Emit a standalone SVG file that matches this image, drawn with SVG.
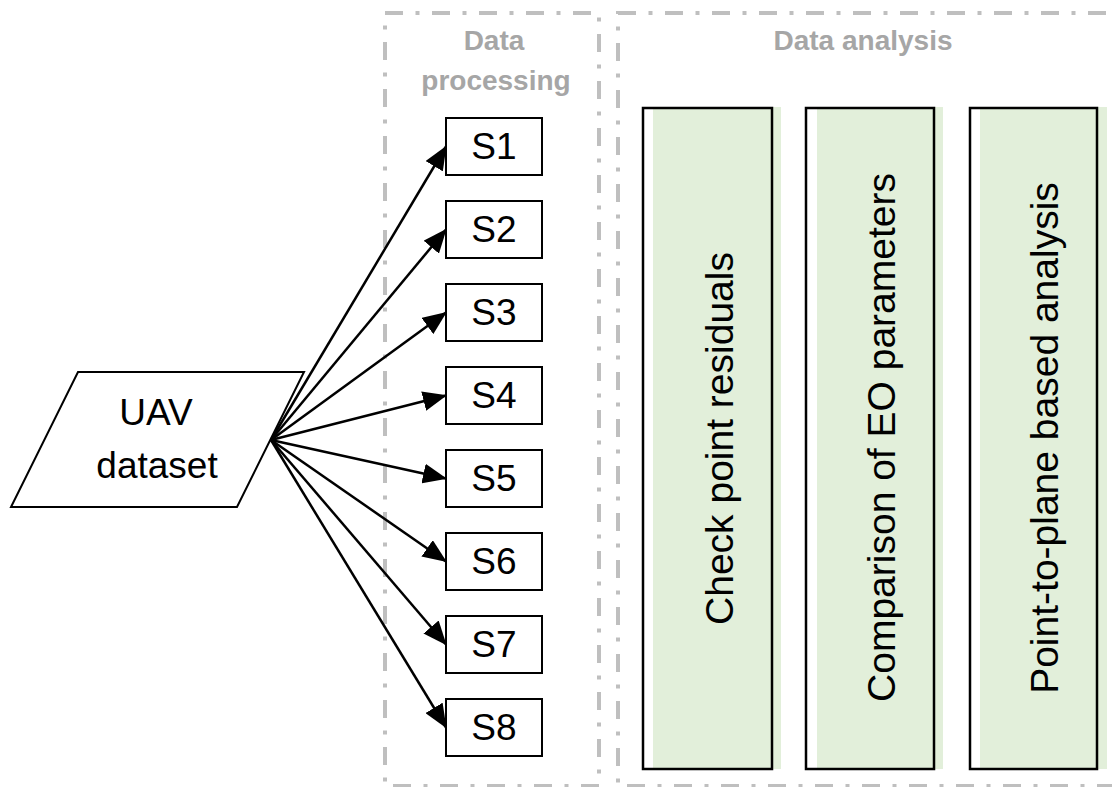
<svg xmlns="http://www.w3.org/2000/svg" width="1112" height="787" viewBox="0 0 1112 787">
  <style>
    .frame { fill: none; stroke: #bfbfbf; stroke-width: 4; stroke-dasharray: 18 12.5 4 12.5; }
    .title { font-family: "Liberation Sans", Arial, sans-serif; font-weight: bold; font-size: 28px; fill: #a6a6a6; text-anchor: middle; }
    .lbl { font-family: "Liberation Sans", Arial, sans-serif; font-size: 37px; fill: #000; text-anchor: middle; }
    .vlbl { font-family: "Liberation Sans", Arial, sans-serif; font-size: 39px; fill: #000; text-anchor: middle; }
    .step { fill: #fff; stroke: #000; stroke-width: 2; }
    .panel { fill: none; stroke: #000; stroke-width: 2.5; }
    .shade { fill: #e2efda; }
    .conn { stroke: #000; stroke-width: 2.5; fill: none; marker-end: url(#arrow); }
  </style>
  <defs>
    <marker id="arrow" markerUnits="userSpaceOnUse" markerWidth="24" markerHeight="20" viewBox="0 0 24 20" refX="23" refY="10" orient="auto">
      <path d="M0,0 L24,10 L0,20 Z" fill="#000"/>
    </marker>
  </defs>

  <!-- Stage frames -->
  <g id="frame-processing">
    <rect class="frame" x="385" y="13" width="214" height="773"/>
    <text class="title" x="494" y="50">Data</text>
    <text class="title" x="496" y="90">processing</text>
  </g>
  <g id="frame-analysis">
    <rect class="frame" x="618" y="13" width="520" height="773"/>
    <text class="title" x="863" y="50">Data analysis</text>
  </g>

  <!-- Input dataset -->
  <g id="uav-dataset">
    <polygon points="78,372 304,372 237,507 11,507" fill="#fff" stroke="#000" stroke-width="2"/>
    <text class="lbl" x="156" y="425">UAV</text>
    <text class="lbl" x="157" y="478">dataset</text>
  </g>

  <!-- Connectors -->
  <g id="connectors">
    <line class="conn" x1="271" y1="440" x2="446" y2="146.5"/>
    <line class="conn" x1="271" y1="440" x2="446" y2="229.5"/>
    <line class="conn" x1="271" y1="440" x2="446" y2="312.5"/>
    <line class="conn" x1="271" y1="440" x2="446" y2="395.5"/>
    <line class="conn" x1="271" y1="440" x2="446" y2="478.5"/>
    <line class="conn" x1="271" y1="440" x2="446" y2="561.5"/>
    <line class="conn" x1="271" y1="440" x2="446" y2="644.5"/>
    <line class="conn" x1="271" y1="440" x2="446" y2="727.5"/>
  </g>

  <!-- Processing scenarios -->
  <g id="s1"><rect class="step" x="446" y="118" width="96" height="57"/><text class="lbl" x="494" y="159">S1</text></g>
  <g id="s2"><rect class="step" x="446" y="201" width="96" height="57"/><text class="lbl" x="494" y="242">S2</text></g>
  <g id="s3"><rect class="step" x="446" y="284" width="96" height="57"/><text class="lbl" x="494" y="325">S3</text></g>
  <g id="s4"><rect class="step" x="446" y="367" width="96" height="57"/><text class="lbl" x="494" y="408">S4</text></g>
  <g id="s5"><rect class="step" x="446" y="450" width="96" height="57"/><text class="lbl" x="494" y="491">S5</text></g>
  <g id="s6"><rect class="step" x="446" y="533" width="96" height="57"/><text class="lbl" x="494" y="574">S6</text></g>
  <g id="s7"><rect class="step" x="446" y="616" width="96" height="57"/><text class="lbl" x="494" y="657">S7</text></g>
  <g id="s8"><rect class="step" x="446" y="699" width="96" height="57"/><text class="lbl" x="494" y="740">S8</text></g>

  <!-- Analysis panels -->
  <g id="check-point-residuals">
    <rect class="shade" x="653" y="107" width="128" height="662"/>
    <rect class="panel" x="643" y="108" width="129" height="661"/>
    <text class="vlbl" transform="translate(733,438.5) rotate(-90)">Check point residuals</text>
  </g>
  <g id="eo-comparison">
    <rect class="shade" x="817" y="107" width="126" height="662"/>
    <rect class="panel" x="806" y="108" width="128" height="661"/>
    <text class="vlbl" transform="translate(895,437.5) rotate(-90)">Comparison of EO parameters</text>
  </g>
  <g id="point-to-plane">
    <rect class="shade" x="980" y="107" width="127" height="662"/>
    <rect class="panel" x="970" y="108" width="127" height="661"/>
    <text class="vlbl" transform="translate(1058,438) rotate(-90)">Point-to-plane based analysis</text>
  </g>
</svg>
